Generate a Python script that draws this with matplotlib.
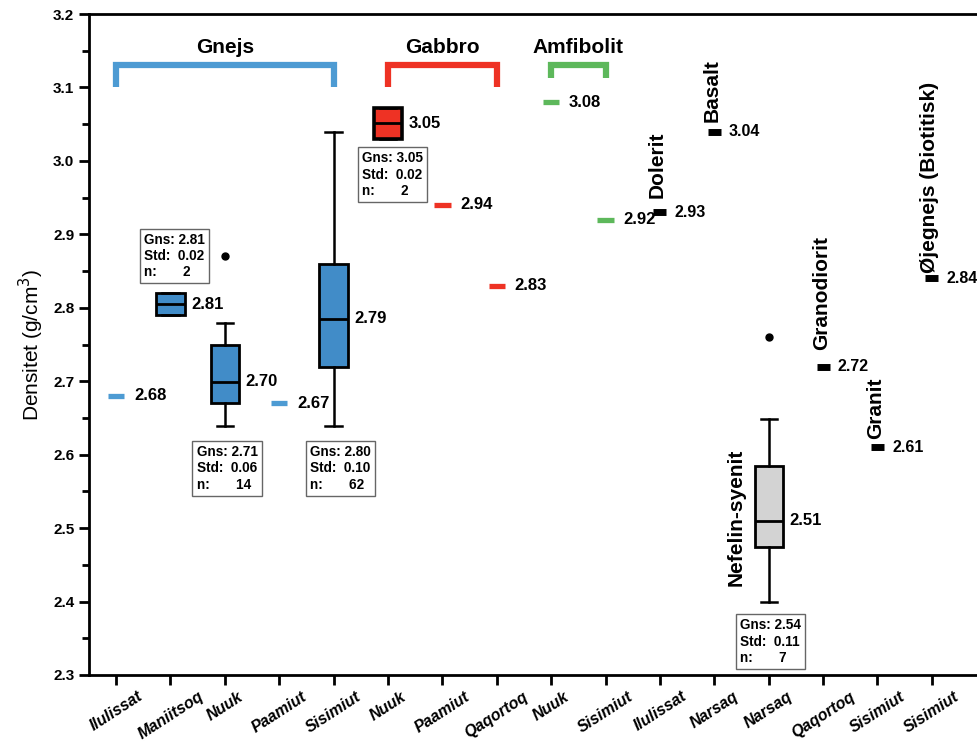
import matplotlib
matplotlib.use("Agg")
import matplotlib.pyplot as plt
from matplotlib.ticker import MultipleLocator

plt.rcParams["font.family"] = ["Liberation Sans", "DejaVu Sans"]

BLAA, BLAA_LYS, ROED, GROEN, GRAA = "#418CC8", "#4D9BD3", "#EE3224", "#5DB85B", "#D3D3D3"

# ---------------------------------------------------------------- data
lokaliteter = ["Ilulissat", "Maniitsoq", "Nuuk", "Paamiut", "Sisimiut", "Nuuk", "Paamiut",
               "Qaqortoq", "Nuuk", "Sisimiut", "Ilulissat", "Narsaq", "Narsaq", "Qaqortoq",
               "Sisimiut", "Sisimiut"]

# boxplots
box_pos = [2, 3, 5, 6, 13]
box_q1 = [2.790, 2.670, 2.720, 3.030, 2.474]
box_med = [2.805, 2.699, 2.785, 3.051, 2.510]
box_q3 = [2.820, 2.749, 2.860, 3.072, 2.585]
box_lo = [2.790, 2.639, 2.639, 3.030, 2.399]
box_hi = [2.820, 2.779, 3.040, 3.072, 2.649]
box_out = [[], [2.87], [], [], [2.76]]
box_tekst = ["2.81", "2.70", "2.79", "3.05", "2.51"]
box_farve = [BLAA, BLAA, BLAA, ROED, GRAA]

# statistik-kasser
stat_gns = ["2.81", "2.71", "2.80", "3.05", "2.54"]
stat_std = ["0.02", "0.06", "0.10", "0.02", "0.11"]
stat_n = ["2", "14", "62", "2", "7"]
stat_x = [2.08, 3.04, 5.12, 6.09, 13.04]
stat_y = [2.909, 2.620, 2.620, 3.020, 2.384]

# enkeltmaalinger
enkel_pos = [1, 4, 7, 8, 9, 10, 11, 12, 14, 15, 16]
enkel_val = [2.68, 2.67, 2.94, 2.83, 3.08, 2.92, 2.93, 3.04, 2.72, 2.61, 2.84]
enkel_farve = [BLAA_LYS, BLAA_LYS, ROED, ROED, GROEN, GROEN, "k", "k", "k", "k", "k"]

# bjergarter (lodret tekst)
navn = ["Dolerit", "Basalt", "Nefelin-syenit", "Granodiorit", "Granit", "Øjegnejs (Biotitisk)"]
navn_x = [10.95, 11.96, 12.40, 13.98, 14.97, 15.95]
navn_y = [2.95, 3.053, 2.421, 2.742, 2.622, 2.848]

# grupper
gruppe = ["Gnejs", "Gabbro", "Amfibolit"]
gruppe_fra = [1, 6, 9]
gruppe_til = [5, 8, 10]
gruppe_bund = [3.10, 3.10, 3.113]
gruppe_farve = [BLAA_LYS, ROED, GROEN]

# ---------------------------------------------------------------- figur
fig = plt.figure(figsize=(9.77, 7.42), dpi=100)
ax = fig.add_axes([0.091, 0.0903, 0.909, 0.8908])
ax.set_xlim(0.5, 16.83)
ax.set_ylim(2.3, 3.2)

stats = []
for i in range(len(box_pos)):
    stats.append(dict(q1=box_q1[i], med=box_med[i], q3=box_q3[i], whislo=box_lo[i],
                      whishi=box_hi[i], fliers=box_out[i]))
bp = ax.bxp(stats, positions=box_pos, widths=0.52, capwidths=0.3, patch_artist=True,
            manage_ticks=False,
            boxprops=dict(lw=2, edgecolor="k"),
            medianprops=dict(color="k", lw=2),
            whiskerprops=dict(color="k", lw=1.8),
            capprops=dict(color="k", lw=1.8),
            flierprops=dict(marker="o", mfc="k", mec="k", ms=5))
for patch, c in zip(bp["boxes"], box_farve):
    patch.set_facecolor(c)
bp["boxes"][3].set_linewidth(2.6)

for p, m, t in zip(box_pos, box_med, box_tekst):
    ax.text(p + 0.38, m, t, fontsize=12, fontweight="bold", va="center", ha="left")

for x, y, g, s, n in zip(stat_x, stat_y, stat_gns, stat_std, stat_n):
    ax.text(x, y - 0.007, f"Gns: {g}\nStd:  {s}\nn:       {n}", fontsize=9.8,
            fontweight="bold", ha="center", va="top", multialignment="left",
            linespacing=1.2,
            bbox=dict(boxstyle="square,pad=0.3", fc="white", ec="#666666", lw=1))

# enkeltmaalinger
for p, v, c in zip(enkel_pos, enkel_val, enkel_farve):
    if c == "k":
        ax.plot([p - 0.12, p + 0.12], [v, v], color=c, lw=5, solid_capstyle="butt")
        ax.text(p + 0.27, v, f"{v:.2f}", fontsize=11.5, fontweight="bold",
                va="center", ha="left")
    else:
        ax.plot([p - 0.15, p + 0.15], [v, v], color=c, lw=3.8, solid_capstyle="butt")
        ax.text(p + 0.33, v, f"{v:.2f}", fontsize=12, fontweight="bold",
                va="center", ha="left")

for t, x, y in zip(navn, navn_x, navn_y):
    ax.text(x, y, t, rotation=90, fontsize=15, fontweight="bold", ha="center", va="bottom")

# grupper (klammer)
for g, a, b, bund, c in zip(gruppe, gruppe_fra, gruppe_til, gruppe_bund, gruppe_farve):
    ax.plot([a, a, b, b], [bund, 3.13, 3.13, bund], color=c, lw=4.5,
            solid_joinstyle="miter", solid_capstyle="butt")
    ax.text((a + b) / 2, 3.155, g, fontsize=15, fontweight="bold", ha="center", va="center")

# akser
ax.set_xticks(range(1, 17))
ax.set_xticklabels(lokaliteter, rotation=33, ha="center", fontsize=11.5,
                   fontweight="bold", style="italic")
ax.yaxis.set_major_locator(MultipleLocator(0.1))
ax.yaxis.set_minor_locator(MultipleLocator(0.05))
ax.yaxis.set_major_formatter(matplotlib.ticker.FormatStrFormatter("%.1f"))
for lab in ax.get_yticklabels():
    lab.set_fontweight("bold")
ax.tick_params(axis="y", which="major", length=7, width=2, labelsize=11, direction="out")
ax.tick_params(axis="y", which="minor", length=5, width=2, direction="out")
ax.tick_params(axis="x", length=7, width=2, direction="out", pad=3)
for s in ["left", "bottom", "top"]:
    ax.spines[s].set_linewidth(2)
ax.spines["right"].set_visible(False)
ax.set_ylabel("Densitet (g/cm$^3$)", fontsize=15, labelpad=5)

fig.savefig("out.png", dpi=100)
